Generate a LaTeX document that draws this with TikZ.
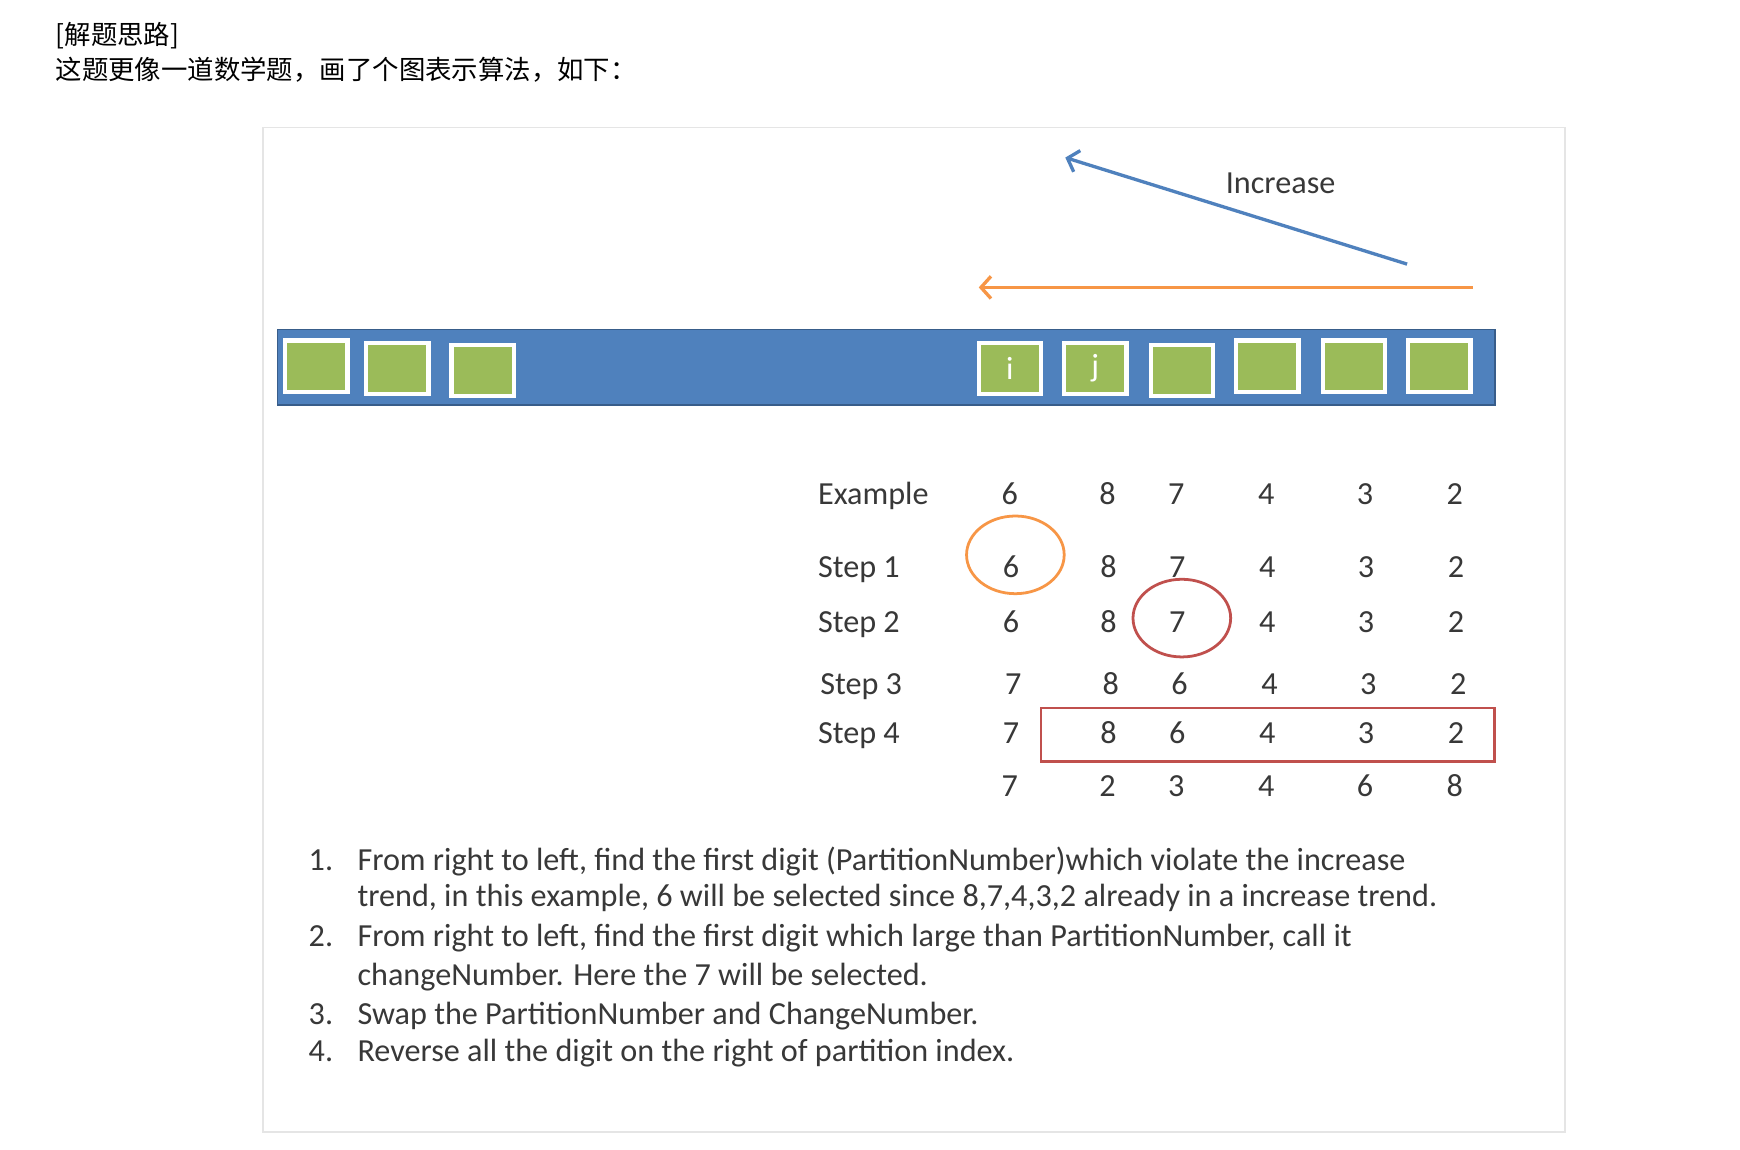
\documentclass[tikz,border=0pt]{standalone}
\usepackage{fontspec}
\setmainfont{Carlito}
\newfontfamily\cjk{Noto Sans CJK SC}
\usepackage{tikz}
\usetikzlibrary{arrows.meta}
\definecolor{officeblue}{RGB}{79,129,189}
\definecolor{bardark}{RGB}{56,93,138}
\definecolor{officegreen}{RGB}{155,187,89}
\definecolor{officeorange}{RGB}{247,150,70}
\definecolor{officered}{RGB}{192,80,77}
\definecolor{inktext}{RGB}{56,56,56}

\begin{document}
\begin{tikzpicture} [
    x=1pt, y=-1pt,
    every node/.style = {inner sep=0pt, font=\fontsize{29}{35}\selectfont, text=inktext},
    head/.style = {anchor=base west, font=\cjk\fontsize{23.8}{30}\selectfont, text=black},
    cell/.style = {anchor=base},
    slot/.style = {draw=white, line width=4pt, fill=officegreen, minimum width=56pt, minimum height=46pt, text=white},
    hint/.style = {line width=3pt, -{Straight Barb[length=9pt, width=20pt]}},
    ring/.style = {line width=2.5pt}
]
    \useasboundingbox[fill=white] (0,0) rectangle (1568,1036);

    % header text
    \node[head] (title) at (50,40) {[解题思路]};
    \node[head] (intro) at (50,72) {这题更像一道数学题，画了个图表示算法，如下：};

    % frame of the figure
    \draw[gray!20, line width=1.5pt] (237,115) rectangle (1410,1020);

    % arrows above the array
    \coordinate (inc-start) at (1268,238);
    \coordinate (inc-end) at (960,142);
    \draw[hint, officeblue] (inc-start) -- (inc-end);
    \node[anchor=base] (increase) at (1154,174) {Increase};
    \coordinate (scan-start) at (1327,259);
    \coordinate (scan-end) at (882,259);
    \draw[hint, officeorange] (scan-start) -- (scan-end);

    % the array
    \draw[fill=officeblue, draw=bardark, line width=1.5pt] (250,297) rectangle (1347,365);
    \foreach \x/\y/\name/\txt in {285/330/b1/, 358/332/b2/, 435/334/b3/, 910/332/bi/i,
        987/332/bj/j, 1065/334/b6/, 1142/330/b7/, 1220/330/b8/, 1297/330/b9/}
        \node[slot] (\name) at (\x,\y) {\txt};

    % example table
    \node[anchor=base west] (lab-ex) at (737,455) {Example};
    \node[anchor=base west] (lab-s1) at (737,520) {Step 1};
    \node[anchor=base west] (lab-s2) at (737,570) {Step 2};
    \node[anchor=base west] (lab-s3) at (739,626) {Step 3};
    \node[anchor=base west] (lab-s4) at (737,670) {Step 4};
    \foreach \row/\y/\dx/\vals in {ex/455/0/{6,8,7,4,3,2}, s1/520/1/{6,8,7,4,3,2},
        s2/570/1/{6,8,7,4,3,2}, s3/626/3/{7,8,6,4,3,2}, s4/670/1/{7,8,6,4,3,2},
        res/718/0/{7,2,3,4,6,8}}
        \foreach \v [count=\c] in \vals {
            \pgfmathsetmacro{\cx}{{910,998,1060,1141,1230,1311}[\c-1]+\dx}
            \node[cell] (\row-\c) at (\cx,\y) {\v};
        };

    \draw[ring, officeorange] (915,500) ellipse [x radius=44, y radius=35];
    \draw[ring, officered] (1065,557) ellipse [x radius=44, y radius=35];
    \draw[ring, officered] (938,638) rectangle (1347,686);

    % steps of the algorithm
    \foreach \y/\n in {784/1., 853/2., 923/3., 957/4.}
        \node[anchor=base west] at (278,\y) {\n};
    \foreach \y/\txt in {
        784/{From right to left, find the first digit (PartitionNumber)which violate the increase},
        817/{trend, in this example, 6 will be selected since 8,7,4,3,2 already in a increase trend.},
        853/{From right to left, find the first digit which large than PartitionNumber, call it},
        888/{changeNumber. Here the 7 will be selected.},
        923/{Swap the PartitionNumber and ChangeNumber.},
        957/{Reverse all the digit on the right of partition index.}}
        \node[anchor=base west] at (322,\y) {\txt};
\end{tikzpicture}
\end{document}
